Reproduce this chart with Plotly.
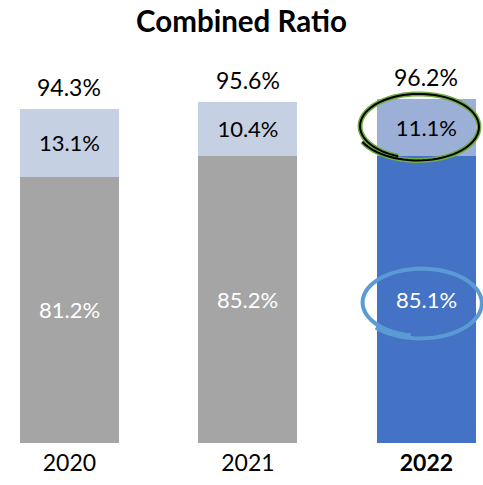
import numpy as np
import plotly.graph_objects as go

# data
years = ["2020", "2021", "2022"]
year_labels = ["2020", "2021", "<b>2022</b>"]
loss_ratio = [81.2, 85.2, 85.1]
expense_ratio = [13.1, 10.4, 11.1]
combined = [94.3, 95.6, 96.2]
y_min = 30  # value axis starts at 30 in the original

FONT = "Lato"
base_colors = ["#a5a5a5", "#a5a5a5", "#4472c4"]
top_colors = ["#c5d0e3", "#c5d0e3", "#9cafd6"]

fig = go.Figure()
fig.add_trace(go.Bar(
    x=years, y=loss_ratio, marker=dict(color=base_colors, line=dict(width=0)),
    width=0.555, hoverinfo="skip",
))
fig.add_trace(go.Bar(
    x=years, y=expense_ratio, marker=dict(color=top_colors, line=dict(width=0)),
    text=[f"{v:.1f}%" for v in expense_ratio], textposition="inside",
    insidetextanchor="middle", textfont=dict(color="black", size=22, family=FONT),
    width=0.555, hoverinfo="skip",
))

# labels of the lower segment, centred on its visible part
for i, v in enumerate(loss_ratio):
    fig.add_annotation(x=i, y=(y_min + v) / 2, xref="x", yref="y",
                       text=f"{v:.1f}%", showarrow=False,
                       font=dict(size=22, color="white", family=FONT))

# totals above bars (category axis: annotations use the category index)
for i, tot in enumerate(combined):
    fig.add_annotation(x=i, y=tot, xref="x", yref="y", text=f"{tot:.1f}%",
                       showarrow=False, yanchor="bottom", yshift=6,
                       font=dict(size=23, color="black", family=FONT))


# hand-drawn style loops around the 2022 figures
def loop_path(cx, cy, rx, ry, turns=1.12, start=3.6):
    t = np.linspace(start, start + 2 * np.pi * turns, 90)
    shrink = np.linspace(1.0, 0.92, t.size)
    xs = cx + rx * shrink * np.cos(t)
    ys = cy + ry * shrink * np.sin(t)
    return "M " + " L ".join(f"{x:.4f},{y:.3f}" for x, y in zip(xs, ys))


g_cx, g_cy = 1.955, loss_ratio[2] + expense_ratio[2] / 2 + 0.2
g_path = loop_path(g_cx, g_cy, 0.35, 6.6)
fig.add_shape(type="path", path=g_path, xref="x", yref="y",
              line=dict(color="#70ad47", width=5))
fig.add_shape(type="path", path=g_path, xref="x", yref="y",
              line=dict(color="black", width=2))

b_cx, b_cy = 1.97, (y_min + loss_ratio[2]) / 2 - 0.6
b_path = loop_path(b_cx, b_cy, 0.35, 6.9, turns=1.1, start=3.9)
fig.add_shape(type="path", path=b_path, xref="x", yref="y",
              line=dict(color="#5b9bd5", width=4))

fig.update_layout(
    barmode="stack",
    width=483, height=485,
    margin=dict(l=0, r=0, t=60, b=42),
    paper_bgcolor="white", plot_bgcolor="white",
    showlegend=False,
    title=dict(text="<b>Combined Ratio</b>", x=0.5, xanchor="center",
               y=0.955, yanchor="middle",
               font=dict(size=29.5, color="black", family=FONT)),
    font=dict(family=FONT),
)
fig.update_xaxes(
    type="category",
    tickmode="array", tickvals=years, ticktext=year_labels,
    range=[-0.389, 2.317], showgrid=False, showline=False, ticks="",
    ticklabelstandoff=4,
    tickfont=dict(size=23, color="black", family=FONT),
)
fig.update_yaxes(range=[y_min, y_min + 383 / 5.2], visible=False, showgrid=False)

fig.write_html("out.html", config={"displayModeBar": False},
               post_script="document.body.style.margin='0';")
